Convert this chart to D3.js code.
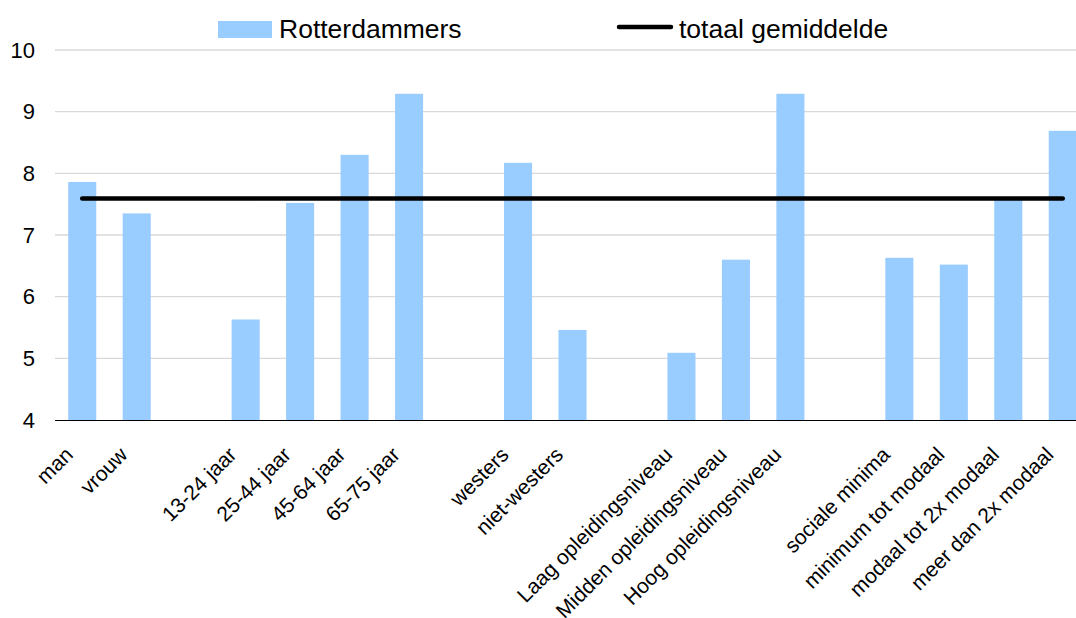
<!DOCTYPE html>
<html>
<head>
<meta charset="utf-8">
<script src="https://cdn.jsdelivr.net/npm/d3@7"></script>
<style>
  body { margin: 0; background: #fff; }
  svg { display: block; font-family: "Liberation Sans", Arial, sans-serif; }
</style>
</head>
<body>
<div id="chart"></div>
<script>
// categories, empty strings are the gaps between groups
const categories = [
  "man", "vrouw", "",
  "13-24 jaar", "25-44 jaar", "45-64 jaar", "65-75 jaar", "",
  "westers", "niet-westers", "",
  "Laag opleidingsniveau", "Midden opleidingsniveau", "Hoog opleidingsniveau", "",
  "sociale minima", "minimum tot modaal", "modaal tot 2x modaal", "meer dan 2x modaal"
];
const rotterdammers = [
  7.86, 7.35, null,
  5.63, 7.52, 8.30, 9.29, null,
  8.17, 5.46, null,
  5.09, 6.60, 9.29, null,
  6.63, 6.52, 7.57, 8.69
];
const totaalGemiddelde = 7.59;
const yTicks = [4, 5, 6, 7, 8, 9, 10];

const W = 1076, H = 618;
const margin = { top: 50, left: 55, right: -14, bottom: 198 };

const svg = d3.select("#chart").append("svg")
  .attr("width", W)
  .attr("height", H);

const ids = categories.map((c, i) => i);

const x = d3.scaleBand()
  .domain(ids)
  .range([margin.left, W - margin.right])
  .paddingInner(0.485)
  .paddingOuter(0.2425);

const y = d3.scaleLinear()
  .domain([4, 10])
  .range([H - margin.bottom, margin.top]);

// gridlines
svg.append("g")
  .selectAll("line")
  .data(yTicks.filter(t => t > 4))
  .join("line")
  .attr("x1", margin.left)
  .attr("x2", W)
  .attr("y1", d => y(d))
  .attr("y2", d => y(d))
  .attr("stroke", "#d9d9d9")
  .attr("stroke-width", 1.3);

// y axis labels
const yAxis = svg.append("g")
  .attr("transform", `translate(${margin.left},0)`)
  .call(d3.axisLeft(y).tickValues(yTicks).tickFormat(d3.format("d")).tickSize(0).tickPadding(20));
yAxis.select(".domain").remove();
yAxis.selectAll("text")
  .attr("font-size", 22)
  .attr("font-family", "Liberation Sans, Arial, sans-serif")
  .attr("fill", "#000");

// bars
svg.append("g")
  .selectAll("rect")
  .data(rotterdammers.map((v, i) => ({ i, v })).filter(d => d.v != null))
  .join("rect")
  .attr("x", d => x(d.i))
  .attr("width", x.bandwidth())
  .attr("y", d => y(d.v))
  .attr("height", d => y(4) - y(d.v))
  .attr("fill", "#99ccff");

// baseline axis
svg.append("line")
  .attr("x1", margin.left)
  .attr("x2", W)
  .attr("y1", y(4) + 0.5)
  .attr("y2", y(4) + 0.5)
  .attr("stroke", "#000")
  .attr("stroke-width", 1.2);

// category labels
svg.append("g")
  .selectAll("text")
  .data(categories.map((c, i) => ({ c, i })).filter(d => d.c !== ""))
  .join("text")
  .attr("transform", d => `translate(${x(d.i) + x.bandwidth() / 2 - 8},${y(4) + 36}) rotate(-45)`)
  .attr("text-anchor", "end")
  .attr("font-size", 21)
  .attr("fill", "#000")
  .text(d => d.c);

// average line
const avgLine = d3.line()
  .x(d => x(d) + x.bandwidth() / 2)
  .y(() => y(totaalGemiddelde));

svg.append("path")
  .datum([ids[0], ids[ids.length - 1]])
  .attr("d", avgLine)
  .attr("fill", "none")
  .attr("stroke", "#000")
  .attr("stroke-width", 4.5)
  .attr("stroke-linecap", "round");

// legend
const legend = svg.append("g");
legend.append("rect")
  .attr("x", 218).attr("y", 21)
  .attr("width", 54).attr("height", 17)
  .attr("fill", "#99ccff");
legend.append("text")
  .attr("x", 279).attr("y", 38)
  .attr("font-size", 26.5)
  .text("Rotterdammers");
legend.append("line")
  .attr("x1", 619).attr("x2", 671)
  .attr("y1", 27).attr("y2", 27)
  .attr("stroke", "#000")
  .attr("stroke-width", 4.5)
  .attr("stroke-linecap", "round");
legend.append("text")
  .attr("x", 679).attr("y", 38)
  .attr("font-size", 26.5)
  .text("totaal gemiddelde");
</script>
</body>
</html>
